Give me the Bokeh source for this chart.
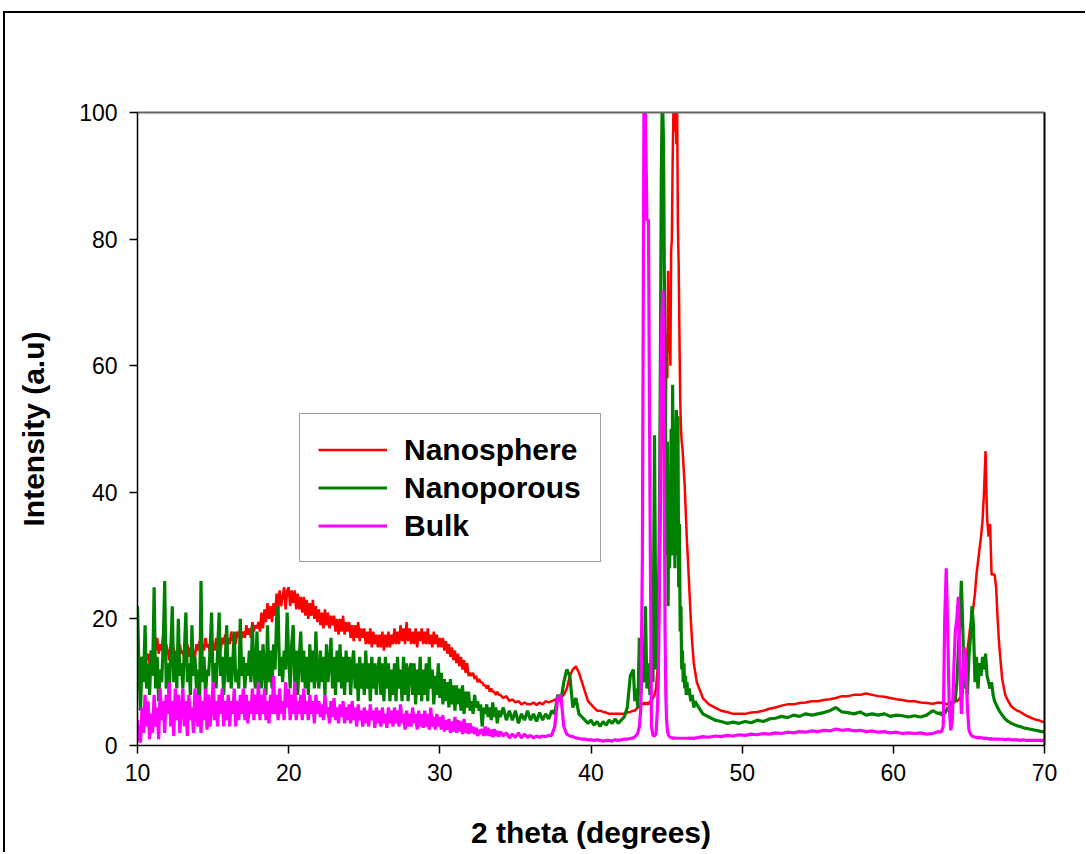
import numpy as np
from bokeh.plotting import figure
from bokeh.models import Range1d, LinearAxis, FixedTicker, Legend, LegendItem
from bokeh.embed import file_html
from bokeh.resources import INLINE

# ---------------- data ----------------
# 2-theta sampling grid (degrees): finer steps in the noisy part and at the sharp peaks
two_theta = np.round(np.concatenate([
    np.arange(10.0, 33.95, 0.1),
    np.arange(34.0, 42.7, 0.2),
    np.arange(42.8, 44.35, 0.1),
    np.arange(44.4, 46.375, 0.05),
    np.arange(46.4, 46.95, 0.1),
    np.arange(47.0, 62.7, 0.4),
    np.arange(63.0, 66.95, 0.1),
    np.arange(67.0, 70.05, 0.2),
]), 2)

x_ticks = [10, 20, 30, 40, 50, 60, 70]
y_ticks = [0, 20, 40, 60, 80, 100]
series_names = ["Nanosphere", "Nanoporous", "Bulk"]

# Nanosphere (red)
nanosphere_a = [  # 10.0 - 33.9, step 0.1
    12, 13.5, 12.5, 14, 13, 15, 13.5, 14.5, 13, 15,
    14, 16, 15, 17, 14.5, 16, 15, 17.5, 14, 16,
    15, 13.5, 16, 14, 15.5, 13, 15, 14, 16, 14.5,
    15, 13.5, 14.5, 16, 14, 15.5, 13.5, 15, 14, 16,
    15, 16.5, 14.5, 16, 15, 17, 15.5, 16, 14.5, 16.5,
    16, 15, 17, 15.5, 16.5, 15, 17, 16, 17.5, 15.5,
    17, 16, 18, 16.5, 17.5, 16, 18, 17, 18.5, 17,
    18, 17, 19, 17.5, 18.5, 17, 19.5, 18, 19, 18.5,
    19.5, 18, 21, 18.5, 21.5, 19.5, 22.5, 20, 22, 19.5,
    22.5, 20.5, 24, 21.5, 24.5, 22, 23.5, 25, 21.5, 24.5,
    25, 22, 24.5, 22.5, 24.5, 21.5, 24, 21.5, 23.5, 21,
    23.5, 20.5, 23, 20, 22.5, 20.5, 23, 20, 22, 19.5,
    21.5, 19, 21, 18.5, 21.5, 19, 21, 18.5, 20.5, 19,
    20.5, 18, 20, 17.5, 20, 18, 20.5, 17.5, 19.5, 18,
    19.5, 17, 19, 16.5, 19, 17, 19.5, 16.5, 18.5, 17,
    18.5, 16, 18, 16, 18.5, 15.5, 18, 16, 17.5, 15.5,
    17.5, 15.5, 18, 15, 17.5, 15.5, 18, 15.5, 17.5, 16,
    18.5, 16, 18, 16, 19, 16.5, 18.5, 16, 19.5, 16.5,
    18.5, 16, 18, 16, 18.5, 15.5, 18, 16.5, 18.5, 16,
    18, 16, 18.5, 16, 17.5, 15.5, 18, 16, 17.5, 15.5,
    17, 15.5, 17, 15, 16.5, 14.5, 16, 14, 15.5, 13.5,
    15, 13, 14.5, 12.5, 14, 12, 13.5, 11.5, 13, 11,
    11.5, 11, 11.5, 10.5, 11, 10, 10.5, 10, 10, 9.5,
    9.5, 9, 9.5, 8.5, 9, 8.5, 8.5, 8, 8.5, 8,
]
nanosphere_b = [  # 34.0 - 42.6, step 0.2
    8, 7.5, 7.8, 7, 7.3, 6.8, 7, 6.5, 6.8, 6.5,
    6.5, 6.8, 6.4, 6.8, 6.5, 7, 6.8, 7, 7.2, 7.5,
    7.5, 8, 9, 11, 12, 12.5, 11.5, 10, 8.5, 7,
    6.5, 6, 5.5, 5.5, 5.3, 5.2, 5, 5, 5, 5,
    5, 5, 5.2, 5.3,
]
nanosphere_c = [  # 42.8 - 44.3, step 0.1
    5.5, 5.5, 5.8, 6, 6, 6.5, 6.5, 6.8, 6.5, 6.8,
    6.5, 7, 7, 7.5, 8, 9,
]
nanosphere_d = [  # 44.4 - 46.35, step 0.05
    12, 15, 20, 27, 35, 45, 55, 62, 58, 45,
    60, 52, 65, 58, 75, 62, 72, 60, 78, 80,
    92, 100, 97, 100, 100, 95, 100, 82, 76, 65,
    55, 50, 48, 47, 45, 43, 41, 38, 35, 32,
]
nanosphere_e = [30, 25, 20, 16, 13, 11.5]  # 46.4 - 46.9, step 0.1
nanosphere_f = [  # 47.0 - 62.6, step 0.4
    10, 7.5, 6.5, 6, 5.5, 5.3, 5, 5, 5, 5.2,
    5.3, 5.5, 5.8, 6, 6.3, 6.5, 6.5, 6.7, 6.8, 7,
    7, 7.2, 7.3, 7.5, 7.8, 7.8, 8, 8, 8.2, 8,
    7.8, 7.7, 7.5, 7.3, 7.2, 7, 7, 6.8, 6.7, 6.6,
]
nanosphere_g = [  # 63.0 - 66.9, step 0.1
    6.8, 6.7, 6.8, 6.6, 6.7, 6.5, 6.6, 6.5, 6.7, 6.8,
    6.8, 7, 7, 7.2, 7.5, 8, 9, 11, 13, 15,
    17, 19, 20, 22, 24, 27, 29, 31, 33, 35.5,
    40, 46.5, 36, 33, 35, 27, 27, 27, 25, 20,
]
nanosphere_h = [16, 10.5, 8, 7, 6.2, 5.8, 5.5, 5.3, 5, 4.7, 4.5, 4.3, 4.1, 4, 3.8, 3.7]

# Nanoporous (green)
nanoporous_a = [  # 10.0 - 33.9, step 0.1
    22, 12, 5.5, 14, 10, 19, 9, 13, 8, 15,
    11, 25, 9, 14, 7, 12, 10, 16, 26, 9,
    13, 8, 15, 22, 10, 14, 9, 20, 11, 13,
    9, 15, 21, 10, 13, 8, 19, 11, 14, 9,
    12, 4, 26, 10, 14, 8, 12, 11, 15, 21,
    10, 13, 9, 15, 21, 11, 14, 8, 13, 19,
    10, 14, 9, 13, 18, 10, 12, 9, 20, 11,
    14, 9, 13, 11, 15, 10, 19, 12, 9, 18,
    10, 15, 9, 16, 12, 8, 19, 10, 15, 9,
    16, 12, 20, 22, 11, 14, 10, 15, 12, 21,
    14, 9, 16, 19, 10, 15, 8, 14, 18, 10,
    15, 9, 14, 8, 16, 10, 15, 9, 18, 11,
    9, 15, 10, 14, 8, 16, 10, 13, 17, 9,
    14, 8, 15, 10, 16, 9, 14, 8, 15, 10,
    14, 8, 13, 15, 9, 13, 7, 14, 9, 13,
    8, 15, 9, 13, 7, 14, 9, 13, 8, 12,
    14, 8, 13, 7, 14, 9, 13, 7, 12, 8,
    13, 7, 14, 9, 12, 7, 14, 8, 13, 7,
    12, 13, 8, 13, 6.5, 12, 8, 14, 7, 12,
    8, 13, 7, 14, 9, 12, 6.5, 11, 8, 13,
    7.5, 11.5, 6.5, 10.5, 7, 10, 6, 10.5, 6.5, 9.5,
    5.5, 9.5, 6.5, 9, 5.5, 9.5, 5, 8.5, 6, 8.5,
    5.5, 7, 5, 8, 6, 7, 5.5, 6.5, 3, 6,
    5, 6.5, 4.5, 6, 4, 6.8, 4.5, 6, 3.5, 5.5,
]
nanoporous_b = [  # 34.0 - 42.6, step 0.2
    4.5, 6, 4, 5.5, 4, 5.5, 3.5, 5, 4, 5.5,
    4, 5, 3.8, 5.2, 4, 5, 4.2, 5.5, 5, 8,
    7, 10, 12, 11, 6, 7.5, 5, 4.5, 4, 3.5,
    4, 3.2, 3.8, 3, 3.8, 3.2, 4, 3.5, 4.2, 3.5,
    4, 4.5, 6, 11,
]
nanoporous_c = [  # 42.8 - 44.3, step 0.1
    12, 7, 9, 6, 17, 8, 12, 10, 22, 9,
    13, 8, 16, 10, 49, 12,
]
nanoporous_d = [  # 44.4 - 46.35, step 0.05
    18, 22, 30, 45, 65, 90, 100, 100, 95, 75,
    62, 45, 30, 48, 22, 40, 28, 35, 50, 30,
    57, 35, 45, 28, 47, 53, 30, 52, 25, 35,
    18, 22, 12, 15, 10, 13, 9, 11, 8, 10,
]
nanoporous_e = [8, 9, 7, 8, 6, 7]  # 46.4 - 46.9, step 0.1
nanoporous_f = [  # 47.0 - 62.6, step 0.4
    6.5, 5, 4.5, 4, 3.8, 3.5, 3.7, 3.5, 3.8, 3.6,
    4, 3.8, 4.2, 4.3, 4.6, 4.4, 4.8, 4.6, 5, 4.8,
    5, 5.2, 5.5, 6, 5.3, 5.2, 5, 5.3, 4.8, 5,
    4.8, 5, 4.6, 4.8, 4.7, 4.5, 4.7, 4.5, 4.8, 5.5,
]
nanoporous_g = [  # 63.0 - 66.9, step 0.1
    5, 5.2, 4.8, 5.3, 5, 5.5, 6, 5.5, 7, 6,
    8, 7, 10, 15, 20, 26, 18, 9, 12, 8,
    14, 17, 22, 19, 10, 14, 9, 13, 11, 14,
    12, 14.5, 11, 10, 9, 10, 8, 7, 6.5, 6,
]
nanoporous_h = [5.5, 4.8, 4.2, 3.8, 3.5, 3.3, 3.1, 3, 2.8, 2.7, 2.6, 2.5, 2.4, 2.3, 2.2, 2.2]

# Bulk (magenta)
bulk_a = [  # 10.0 - 33.9, step 0.1
    4, 1, 0.5, 6, 2, 8, 3, 7, 1, 5,
    2, 8, 3, 6, 1, 9, 4, 7, 2, 8,
    5, 10, 3, 7, 1.5, 9, 4, 8, 2, 6,
    9, 3, 7, 1.5, 8, 4, 6, 2, 9, 5,
    3, 8, 2, 7, 4, 9, 2.5, 8, 3, 6,
    10, 4, 7, 3, 8, 5, 9, 3, 7, 4,
    8, 3, 7, 5, 9, 3, 7, 4, 8, 5,
    9, 4, 8, 3.5, 7, 5, 9, 4, 8, 5,
    10, 4, 8, 5, 9, 4, 7, 3.5, 8, 5,
    11, 5, 8, 4, 9, 5, 7, 4, 10, 6,
    9, 4, 8, 5, 10, 4, 7, 5, 8, 4,
    9, 5, 7, 4, 8, 5, 7, 3.5, 8, 5,
    7, 4.5, 6.5, 4, 8, 5, 6, 3.5, 7, 4.5,
    7.5, 4, 6, 3.5, 6.5, 4.5, 7, 3.5, 6, 4,
    6.5, 3.5, 7, 4, 6, 3, 6.5, 4, 5.5, 3,
    6, 3.5, 5.5, 3, 6.5, 4, 5.5, 2.8, 6, 3.5,
    5.5, 3, 6, 3.5, 5, 2.8, 6, 3.5, 5.5, 3,
    6, 3.5, 5.5, 3, 6.5, 3.5, 5, 2.5, 5.5, 3,
    5, 3, 6, 3.5, 5, 2.5, 5.5, 3, 5, 2.8,
    5.5, 3, 5, 2.5, 6, 3, 4.5, 2.5, 5, 3,
    4.5, 2.5, 4.8, 2.2, 4, 2.5, 4.2, 2, 3.8, 2.2,
    4.5, 2, 4, 2.2, 3.8, 1.8, 4.2, 2, 3.5, 1.8,
    3.5, 2, 3, 1.8, 2.8, 1.5, 2.5, 1.8, 2.6, 1.5,
    3, 1.6, 2.8, 1.5, 2.5, 1.3, 2.6, 1.5, 2.3, 1.4,
]
bulk_b = [  # 34.0 - 42.6, step 0.2
    2.2, 1.5, 2, 1.2, 1.8, 1.3, 2, 1.2, 1.8, 1.3,
    1.6, 1.2, 1.5, 1.3, 1.5, 1.4, 1.6, 1.6, 3, 7.5,
    8, 3, 1.8, 1.5, 1.4, 1.2, 1.1, 1, 1, 0.9,
    0.9, 0.8, 0.9, 0.8, 0.7, 0.8, 0.8, 0.7, 0.9, 0.8,
    0.9, 1, 1, 1.1,
]
bulk_c = [  # 42.8 - 44.3, step 0.1
    1.2, 1.4, 1.6, 2, 3, 6, 30, 100, 100, 83,
    83, 40, 3, 1.6, 1.5, 1.8,
]
bulk_d = [  # 44.4 - 46.35, step 0.05
    6, 10, 20, 35, 50, 62, 68, 72, 65, 40,
    18, 8, 4, 2.5, 1.8, 1.5, 1.4, 1.3, 1.3, 1.2,
    1.2, 1.1, 1.2, 1.2, 1.1, 1.2, 1.1, 1.2, 1.1, 1.2,
    1.1, 1.2, 1.1, 1.2, 1.1, 1.2, 1.1, 1.2, 1.1, 1.2,
]
bulk_e = [1.1, 1.2, 1.1, 1.2, 1.1, 1.2]  # 46.4 - 46.9, step 0.1
bulk_f = [  # 47.0 - 62.6, step 0.4
    1.2, 1.4, 1.3, 1.5, 1.4, 1.6, 1.5, 1.7, 1.6, 1.8,
    1.7, 1.9, 1.8, 2, 1.9, 2.1, 2, 2.2, 2.1, 2.3,
    2.2, 2.4, 2.3, 2.6, 2.4, 2.5, 2.3, 2.4, 2.2, 2.3,
    2.1, 2.2, 2, 2.1, 1.9, 2, 1.9, 2, 1.8, 1.9,
]
bulk_g = [  # 63.0 - 66.9, step 0.1
    2.2, 2.1, 2.3, 3, 20, 28, 18, 6, 2.4, 4,
    12, 18, 20, 23.5, 13, 5, 10, 15.5, 13, 6,
    2.5, 1.8, 1.5, 1.4, 1.3, 1.3, 1.2, 1.3, 1.2, 1.2,
    1.1, 1.2, 1.1, 1.1, 1.0, 1.1, 1.0, 1.0, 1.0, 1.0,
]
bulk_h = [1.0, 1.0, 0.9, 1.0, 0.9, 0.9, 0.9, 0.8, 0.9, 0.8, 0.8, 0.8, 0.8, 0.8, 0.8, 0.8]

nanosphere = (nanosphere_a + nanosphere_b + nanosphere_c + nanosphere_d
              + nanosphere_e + nanosphere_f + nanosphere_g + nanosphere_h)
nanoporous = (nanoporous_a + nanoporous_b + nanoporous_c + nanoporous_d
              + nanoporous_e + nanoporous_f + nanoporous_g + nanoporous_h)
bulk = bulk_a + bulk_b + bulk_c + bulk_d + bulk_e + bulk_f + bulk_g + bulk_h
assert len(nanosphere) == len(two_theta) == len(nanoporous) == len(bulk)

# ---------------- figure ----------------
FONT = "Liberation Sans"
p = figure(width=1082, height=841, output_backend="svg", toolbar_location=None,
           x_range=Range1d(10, 70), y_range=Range1d(0, 100),
           min_border_left=132, min_border_top=99, min_border_right=43,
           min_border_bottom=109)
p.margin = (11, 0, 0, 3)
p.styles = {"border-top": "2px solid black", "border-left": "2px solid black"}
p.background_fill_color = "white"
p.border_fill_color = "white"
p.outline_line_color = None
p.grid.visible = False

r_red = p.line(two_theta, nanosphere, line_color="#FF0000", line_width=2.5)
r_green = p.line(two_theta, nanoporous, line_color="#008000", line_width=3.2)
r_mag = p.line(two_theta, bulk, line_color="#FF00FF", line_width=3.2)

p.xaxis.ticker = FixedTicker(ticks=x_ticks)
p.yaxis.ticker = FixedTicker(ticks=y_ticks)
p.xaxis.axis_label = "2 theta (degrees)"
p.yaxis.axis_label = "Intensity (a.u)"
for ax in (p.xaxis[0], p.yaxis[0]):
    ax.major_tick_in = 0
    ax.major_tick_out = 8
    ax.minor_tick_in = 0
    ax.minor_tick_out = 0
    ax.major_tick_line_color = "black"
    ax.major_tick_line_width = 1.5
    ax.axis_line_color = "black"
    ax.axis_line_width = 1.5
    ax.major_label_text_font = FONT
    ax.major_label_text_font_size = "23px"
    ax.major_label_text_color = "black"
    ax.axis_label_text_font = FONT
    ax.axis_label_text_font_style = "bold"
    ax.axis_label_text_font_size = "30px"
    ax.axis_label_text_color = "black"
p.xaxis.major_label_standoff = 10
p.xaxis.axis_label_standoff = 32
p.yaxis.major_label_standoff = 12
p.yaxis.axis_label_standoff = 26

top_axis = LinearAxis(ticker=FixedTicker(ticks=[]), axis_line_color="#666666",
                      axis_line_width=2, major_tick_out=0, minor_tick_out=0,
                      major_label_text_font_size="0px")
p.add_layout(top_axis, "above")
right_axis = LinearAxis(ticker=FixedTicker(ticks=[]), axis_line_color="black",
                        axis_line_width=2, major_tick_out=0, minor_tick_out=0,
                        major_label_text_font_size="0px")
p.add_layout(right_axis, "right")

legend = Legend(items=[
    LegendItem(label=series_names[0], renderers=[r_red]),
    LegendItem(label=series_names[1], renderers=[r_green]),
    LegendItem(label=series_names[2], renderers=[r_mag]),
], location=(162, 183))
legend.label_text_font = FONT
legend.label_text_font_style = "bold"
legend.label_text_font_size = "30px"
legend.label_text_color = "black"
legend.label_standoff = 17
legend.label_width = 178
legend.glyph_width = 69
legend.glyph_height = 35
legend.label_height = 35
legend.spacing = 3
legend.padding = 18
legend.margin = 0
legend.border_line_color = "#444444"
legend.border_line_width = 1.5
legend.background_fill_color = "white"
legend.background_fill_alpha = 1.0
p.add_layout(legend)

open("out.html", "w").write(file_html(p, INLINE))
